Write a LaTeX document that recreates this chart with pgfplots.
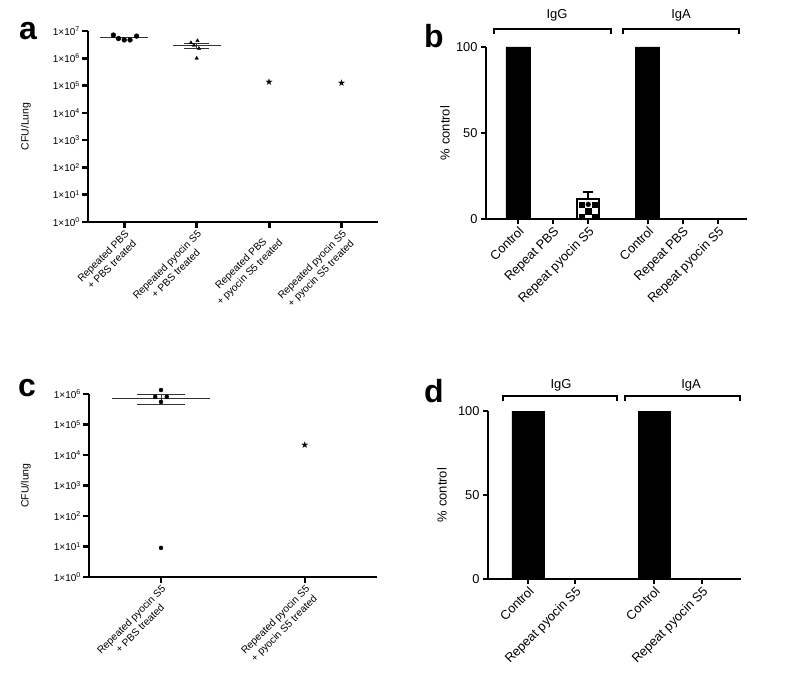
\documentclass[border=0pt]{standalone}
\usepackage{fontspec}
\setmainfont{Liberation Sans}
\newfontfamily\symfont{DejaVu Sans}
\usepackage{pgfplots}
\pgfplotsset{compat=1.18}
\usetikzlibrary{plotmarks}

\pgfplotsset{
  cfu/.style={
    scale only axis, clip=false,
    axis lines*=left, axis line style={line width=2.6pt},
    tick align=outside, major tick length=6pt,
    major tick style={line width=2.6pt, black},
    yticklabel style={font=\fontsize{10}{11}\selectfont, inner sep=2pt},
    xticklabel style={font=\fontsize{10.2}{12.2}\selectfont, rotate=45, anchor=north east, align=center, inner sep=1pt},
    ylabel style={font=\fontsize{10.5}{11}\selectfont, anchor=center},
  },
  pct/.style={
    scale only axis, clip=false,
    axis lines*=left, axis line style={line width=2pt},
    tick align=outside, major tick length=5pt,
    major tick style={line width=2pt, black},
    ymin=0, ymax=100, ytick={0,50,100},
    ticklabel style={font=\fontsize{12.8}{13.5}\selectfont},
    xticklabel style={rotate=45, anchor=north east, inner sep=1pt},
    ylabel style={font=\fontsize{13}{14}\selectfont, anchor=center},
    ylabel={\% control},
  },
  meanline/.style={line width=1pt, black!80, forget plot},
  starmark/.style={only marks, mark=text, text mark={\symfont\fontsize{9.5}{9.5}\selectfont ★}},
}

\begin{document}
\begin{tikzpicture}[x=1pt,y=1pt]
\path[use as bounding box] (0,0) rectangle (787,681);

% panel letters
\node[font=\fontsize{32}{32}\bfseries] at (28,650) {a};
\node[font=\fontsize{32}{32}\bfseries] at (434,645) {b};
\node[font=\fontsize{32}{32}\bfseries] at (27,293) {c};
\node[font=\fontsize{32}{32}\bfseries] at (434,290) {d};

% ---------- a ----------
\begin{axis}[cfu, ymode=log, yminorticks=false,
  /pgf/number format/assume math mode=true,
  at={(88pt,459pt)}, anchor=south west, width=290pt, height=191pt,
  xmin=-0.5, xmax=3.5, ymin=1, ymax=1e7,
  ytick={1,10,100,1000,10000,100000,1000000,10000000},
  yticklabels={1×10\textsuperscript{0},1×10\textsuperscript{1},1×10\textsuperscript{2},1×10\textsuperscript{3},1×10\textsuperscript{4},1×10\textsuperscript{5},1×10\textsuperscript{6},1×10\textsuperscript{7}},
  xtick={0,1,2,3},
  xticklabels={{Repeated PBS\\+ PBS treated},{Repeated pyocin S5\\+ PBS treated},{Repeated PBS\\+ pyocin S5 treated},{Repeated pyocin S5\\+ pyocin S5 treated}},
  ylabel={CFU/Lung}, ylabel style={at={(axis description cs:-0.214,0.5)}},
]
\addplot[meanline] coordinates {(-0.33,5.9e6) (0.33,5.9e6)};
\addplot[only marks, mark=*, mark size=2.4pt, black] coordinates {(-0.15,7.1e6) (-0.08,5.3e6) (0,4.7e6) (0.08,4.7e6) (0.17,6.5e6)};
\addplot[meanline] coordinates {(0.67,2.9e6) (1.33,2.9e6)};
\addplot[meanline] coordinates {(0.82,3.5e6) (1.17,3.5e6)};
\addplot[meanline] coordinates {(0.82,2.3e6) (1.17,2.3e6)};
\addplot[meanline] coordinates {(1,2.3e6) (1,3.5e6)};
\addplot[only marks, mark=triangle*, mark size=2pt, black] coordinates {(0.92,3.7e6) (1.01,4.4e6) (0.96,3.0e6) (1.03,2.3e6) (1.0,1.0e6)};
\addplot[starmark] coordinates {(2,1.35e5) (3,1.2e5)};
\end{axis}

% ---------- b ----------
\begin{axis}[pct, /pgf/number format/assume math mode=true,
  at={(486pt,462pt)}, anchor=south west, width=261pt, height=172pt,
  xmin=-0.91, xmax=6.52,
  xtick={0,1,2,3.69,4.69,5.69},
  xticklabels={Control,Repeat PBS,Repeat pyocin S5,Control,Repeat PBS,Repeat pyocin S5},
  ylabel style={at={(axis description cs:-0.157,0.5)}},
]
\addplot[ybar, bar shift=0pt, bar width=24pt, fill=black, draw=black] coordinates {(0,100) (1,0) (3.69,100) (4.69,0) (5.69,0)};
\addplot[ybar, bar shift=0pt, bar width=22pt, fill=white, draw=black, line width=2.4pt,
  error bars/.cd, y dir=plus, y explicit,
  error bar style={line width=1.6pt},
  error mark options={rotate=90, mark size=5pt, line width=1.6pt}]
  coordinates {(2,11.5) +- (0,4.2)};
\addplot[only marks, mark=square*, mark size=2.6pt, black] coordinates {(1.82,8.5) (2.18,8.5) (2,4.5) (1.82,1.5) (2.18,1.5)};
\addplot[only marks, mark=*, mark size=2.4pt, black] coordinates {(2,8.5)};
\end{axis}
\draw[line width=1.3pt] (494,647) -- (494,652) -- (611,652) -- (611,647);
\draw[line width=1.3pt] (623,647) -- (623,652) -- (739,652) -- (739,647);
\node[font=\fontsize{13}{14}\selectfont] at (557,666) {IgG};
\node[font=\fontsize{13}{14}\selectfont] at (681,666) {IgA};

% ---------- c ----------
\begin{axis}[cfu, ymode=log, yminorticks=false,
  /pgf/number format/assume math mode=true,
  at={(89pt,104pt)}, anchor=south west, width=288pt, height=183pt,
  xmin=-0.5, xmax=1.5, ymin=1, ymax=1e6,
  ytick={1,10,100,1000,10000,100000,1000000},
  yticklabels={1×10\textsuperscript{0},1×10\textsuperscript{1},1×10\textsuperscript{2},1×10\textsuperscript{3},1×10\textsuperscript{4},1×10\textsuperscript{5},1×10\textsuperscript{6}},
  xtick={0,1},
  xticklabels={{Repeated pyocin S5\\+ PBS treated},{Repeated pyocin S5\\+ pyocin S5 treated}},
  ylabel={CFU/lung}, ylabel style={at={(axis description cs:-0.219,0.5)}},
]
\addplot[meanline] coordinates {(-0.34,6.9e5) (0.34,6.9e5)};
\addplot[meanline] coordinates {(-0.17,9.3e5) (0.17,9.3e5)};
\addplot[meanline] coordinates {(-0.17,4.7e5) (0.17,4.7e5)};
\addplot[meanline] coordinates {(0,4.7e5) (0,9.3e5)};
\addplot[only marks, mark=*, mark size=2pt, black] coordinates {(0,1.35e6) (-0.04,8.1e5) (0.04,8.1e5) (0,5.5e5) (0,9)};
\addplot[starmark] coordinates {(1,2.1e4)};
\end{axis}

% ---------- d ----------
\begin{axis}[pct, /pgf/number format/assume math mode=true,
  at={(488pt,102pt)}, anchor=south west, width=253pt, height=168pt,
  xmin=-0.85, xmax=4.53,
  xtick={0,1,2.68,3.70},
  xticklabels={Control,Repeat pyocin S5,Control,Repeat pyocin S5},
  ylabel style={at={(axis description cs:-0.182,0.5)}},
]
\addplot[ybar, bar shift=0pt, bar width=32pt, fill=black, draw=black] coordinates {(0,100) (1,0) (2.68,100) (3.70,0)};
\end{axis}
\draw[line width=1.3pt] (503,280) -- (503,285) -- (617,285) -- (617,280);
\draw[line width=1.3pt] (625,280) -- (625,285) -- (740,285) -- (740,280);
\node[font=\fontsize{13}{14}\selectfont] at (561,296) {IgG};
\node[font=\fontsize{13}{14}\selectfont] at (691,296) {IgA};

\end{tikzpicture}
\end{document}
